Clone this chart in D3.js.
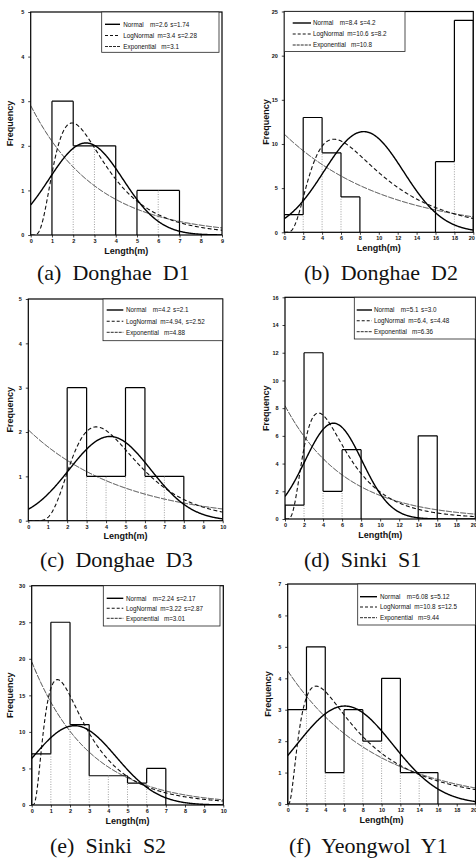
<!DOCTYPE html>
<html>
<head>
<meta charset="utf-8">
<script src="https://cdn.jsdelivr.net/npm/d3@7/dist/d3.min.js"></script>
<style>
  html, body { margin: 0; padding: 0; background: #fff; }
  svg { display: block; }
  .cap { font-family: "Liberation Serif", "Times New Roman", serif; white-space: pre; fill: #111; }
  .tick text { font-family: "Liberation Sans", Arial, sans-serif; font-weight: bold; font-size: 5.5px; fill: #111; }
  .ttl { font-family: "Liberation Sans", Arial, sans-serif; font-weight: bold; font-size: 9px; fill: #111; }
  .lgt { font-family: "Liberation Sans", Arial, sans-serif; font-size: 6.3px; fill: #111; }
</style>
</head>
<body>
<svg id="chart" width="476" height="862"></svg>
<script>
// Site captions
const captions = ["(a)  Donghae  D1", "(b)  Donghae  D2", "(c)  Donghae  D3",
                  "(d)  Sinki  S1", "(e)  Sinki  S2", "(f)  Yeongwol  Y1"];

// Histogram bins: width and counts per bin starting at 0
const binWidth = [1, 2, 1, 2, 1, 2];
const counts = [
  [0, 3, 2, 2, 0, 1, 1, 0, 0],
  [2, 13, 9, 4, 0, 0, 0, 0, 8, 24],
  [0, 0, 3, 1, 1, 3, 1, 1, 0, 0],
  [1, 12, 2, 5, 0, 0, 0, 6, 0, 0],
  [7, 25, 11, 4, 4, 3, 5, 0, 0, 0],
  [3, 5, 1, 3, 2, 4, 1, 1, 0, 0]
];

// Axis extents and tick steps
const xMax = [9, 20, 10, 20, 10, 20];
const xTickStep = [1, 2, 1, 2, 1, 2];
const yMax = [5, 25, 5, 16, 30, 7];
const yTickStep = [1, 5, 1, 2, 5, 1];

// Fitted distribution parameters (mean m, standard deviation s), as printed in the legends
const normalM = ["2.6", "8.4", "4.2", "5.1", "2.24", "6.08"];
const normalS = ["1.74", "4.2", "2.1", "3.0", "2.17", "5.12"];
const logNormalM = ["3.4", "10.6", "4.94", "6.4", "3.22", "10.8"];
const logNormalS = ["2.28", "8.2", "2.52", "4.48", "2.87", "12.5"];
const logNormalSep = ["", "", ",", ",", "", ""];
const expM = ["3.1", "10.8", "4.88", "6.36", "3.01", "9.44"];

// Panel geometry (plot frame, legend box, label positions)
const layout = [
  { L: 30.7, T: 12, R: 222, B: 235, fy: 10, cap: [37, 280],
    lg: { x0: 101.7, x1: 219, y1: 52.3, rows: [24.3, 35.5, 46.5], lx0: 105, lx1: 120, tx: 123.3 } },
  { L: 284.3, T: 11.5, R: 473.3, B: 232.3, fy: 266, cap: [304, 280],
    lg: { x0: 284.3, x1: 405, y1: 51.5, rows: [23, 34, 45], lx0: 292.7, lx1: 311, tx: 313 } },
  { L: 28.3, T: 299, R: 222.7, B: 520.7, fy: 10, cap: [40, 567],
    lg: { x0: 103, x1: 222.7, y1: 340.7, rows: [310, 321.3, 332.3], lx0: 106.7, lx1: 123.3, tx: 126 } },
  { L: 285, T: 297.3, R: 475.3, B: 519, fy: 266, cap: [304, 567],
    lg: { x0: 354.3, x1: 475.3, y1: 339, rows: [310, 320.7, 331.7], lx0: 356.7, lx1: 372, tx: 374 } },
  { L: 31.7, T: 585.7, R: 223.3, B: 805, fy: 10, cap: [50, 853],
    lg: { x0: 103.3, x1: 220, y1: 626, rows: [598.3, 608.3, 618.3], lx0: 106.7, lx1: 123.3, tx: 126 } },
  { L: 287.7, T: 584, R: 475.5, B: 804, fy: 268, cap: [289, 853],
    lg: { x0: 357.7, x1: 475.5, y1: 625, rows: [596.7, 607, 617.7], lx0: 360, lx1: 377, tx: 380 } }
];

const styles = {
  normal: { w: 1.4, dash: null, col: "#000" },
  lognormal: { w: 1.1, dash: "4,2.5", col: "#111" },
  exponential: { w: 0.9, dash: "6,1.2", col: "#2a2a2a" }
};

// Probability densities
const SQ2PI = Math.sqrt(2 * Math.PI);
function normalPdf(x, m, s) {
  return Math.exp(-0.5 * ((x - m) / s) ** 2) / (s * SQ2PI);
}
function logNormalPdf(x, m, s) {
  if (x <= 0) return 0;
  const v = Math.log(1 + (s / m) ** 2);
  const mu = Math.log(m) - v / 2;
  return Math.exp(-((Math.log(x) - mu) ** 2) / (2 * v)) / (x * Math.sqrt(v) * SQ2PI);
}
function expPdf(x, m) {
  return Math.exp(-x / m) / m;
}

const svg = d3.select("#chart");

layout.forEach((P, i) => {
  const x = d3.scaleLinear().domain([0, xMax[i]]).range([P.L, P.R]);
  const y = d3.scaleLinear().domain([0, yMax[i]]).range([P.B, P.T]);
  const g = svg.append("g");

  const clipId = "clip" + i;
  g.append("clipPath").attr("id", clipId)
    .append("rect").attr("x", P.L).attr("y", P.T).attr("width", P.R - P.L).attr("height", P.B - P.T);

  // axes
  const xa = d3.axisBottom(x).tickValues(d3.range(0, xMax[i] + 0.001, xTickStep[i]))
    .tickFormat(d3.format("d")).tickSize(2.5).tickPadding(1.5);
  const ya = d3.axisLeft(y).tickValues(d3.range(0, yMax[i] + 0.001, yTickStep[i]))
    .tickFormat(d3.format("d")).tickSize(2.5).tickPadding(4);
  const gx = g.append("g").attr("transform", `translate(0,${P.B})`).call(xa);
  const gy = g.append("g").attr("transform", `translate(${P.L},0)`).call(ya);
  [gx, gy].forEach(a => {
    a.select(".domain").remove();
    a.selectAll(".tick line").attr("stroke", "#111").attr("stroke-width", 0.8);
  });
  // keep the last x label inside the page when the frame reaches the right edge
  if (P.R > 470) {
    gx.selectAll(".tick text").filter(d => d === xMax[i]).attr("text-anchor", "end").attr("dx", 1);
  }

  // histogram
  const c = counts[i], bw = binWidth[i];
  const hist = g.append("g").attr("clip-path", `url(#${clipId})`);
  c.forEach((h, k) => {
    if (h > 0) {
      hist.append("line")
        .attr("x1", x(k * bw)).attr("x2", x((k + 1) * bw))
        .attr("y1", y(h)).attr("y2", y(h))
        .attr("stroke", "#000").attr("stroke-width", 1.2);
    }
  });
  for (let k = 0; k <= c.length; k++) {
    const hl = k > 0 ? c[k - 1] : 0;
    const hr = k < c.length ? c[k] : 0;
    const lo = Math.min(hl, hr), hi = Math.max(hl, hr);
    const xe = x(k * bw);
    if (hi > lo) {
      hist.append("line").attr("x1", xe).attr("x2", xe)
        .attr("y1", y(lo)).attr("y2", y(hi))
        .attr("stroke", "#000").attr("stroke-width", 1.2);
    }
    if (lo > 0) {
      hist.append("line").attr("x1", xe).attr("x2", xe)
        .attr("y1", y(0)).attr("y2", y(lo))
        .attr("stroke", "#777").attr("stroke-width", 0.7)
        .attr("stroke-dasharray", "1,1.5");
    }
  }

  // fitted curves scaled to the histogram (total count x bin width)
  const scale = d3.sum(c) * bw;
  const xs = d3.range(0, xMax[i] + 1e-9, xMax[i] / 400);
  const line = d3.line().x(d => x(d[0])).y(d => y(d[1]));
  const curves = [
    { key: "exponential", pts: xs.map(v => [v, scale * expPdf(v, +expM[i])]) },
    { key: "lognormal", pts: xs.map(v => [v, scale * logNormalPdf(v, +logNormalM[i], +logNormalS[i])]) },
    { key: "normal", pts: xs.map(v => [v, scale * normalPdf(v, +normalM[i], +normalS[i])]) }
  ];
  const cg = g.append("g").attr("clip-path", `url(#${clipId})`);
  curves.forEach(cv => {
    const st = styles[cv.key];
    cg.append("path").attr("d", line(cv.pts)).attr("fill", "none")
      .attr("stroke", st.col).attr("stroke-width", st.w)
      .attr("stroke-dasharray", st.dash);
  });

  // frame
  g.append("rect").attr("x", P.L).attr("y", P.T)
    .attr("width", P.R - P.L).attr("height", P.B - P.T)
    .attr("fill", "none").attr("stroke", "#000").attr("stroke-width", 1.2);

  // legend
  const lg = P.lg;
  g.append("rect").attr("x", lg.x0).attr("y", P.T)
    .attr("width", lg.x1 - lg.x0).attr("height", lg.y1 - P.T)
    .attr("fill", "#fff").attr("stroke", "#222").attr("stroke-width", 0.8);
  const entries = [
    { key: "normal", name: "Normal", gap: 6.5,
      parts: ["m=" + normalM[i], "s=" + normalS[i]] },
    { key: "lognormal", name: "LogNormal", gap: 3.5,
      parts: ["m=" + logNormalM[i] + logNormalSep[i], "s=" + logNormalS[i]] },
    { key: "exponential", name: "Exponential", gap: 5,
      parts: ["m=" + expM[i]] }
  ];
  entries.forEach((e, r) => {
    const st = styles[e.key];
    const yy = lg.rows[r];
    g.append("line").attr("x1", lg.lx0).attr("x2", lg.lx1).attr("y1", yy).attr("y2", yy)
      .attr("stroke", st.col).attr("stroke-width", Math.max(st.w, 1))
      .attr("stroke-dasharray", e.key === "lognormal" ? "3,2" : (e.key === "exponential" ? "3,1" : null));
    const t = g.append("text").attr("class", "lgt").attr("x", lg.tx).attr("y", yy + 2.2);
    t.append("tspan").text(e.name);
    e.parts.forEach((p, j) => t.append("tspan").attr("dx", j === 0 ? e.gap : 2.5).text(p));
  });

  // axis titles
  g.append("text").attr("class", "ttl").attr("text-anchor", "middle")
    .attr("x", (P.L + P.R) / 2).attr("y", P.B + 18.5).text("Length(m)");
  g.append("text").attr("class", "ttl").attr("text-anchor", "middle")
    .attr("transform", `translate(${P.fy + 3.2},${(P.T + P.B) / 2}) rotate(-90)`)
    .text("Frequency");

  // caption
  g.append("text").attr("class", "cap").attr("x", P.cap[0]).attr("y", P.cap[1])
    .attr("font-size", 22).text(captions[i]);
});
</script>
</body>
</html>
